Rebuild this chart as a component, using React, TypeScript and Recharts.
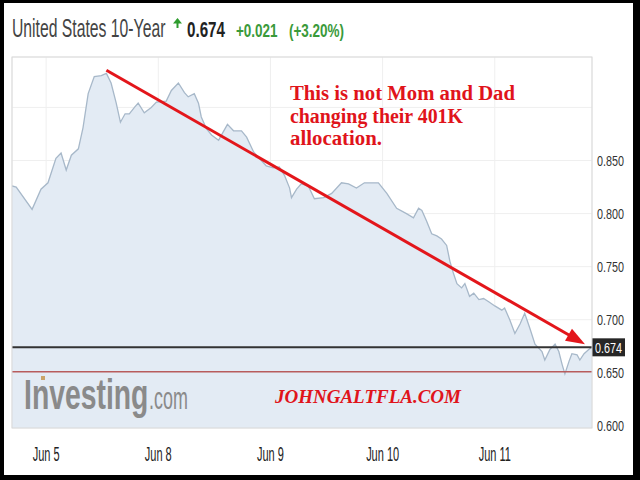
import React from 'react';
import { ComposedChart, Area, XAxis, YAxis, CartesianGrid, ReferenceLine } from 'recharts';

// hours relative to the "Jun 5" tick
const hours = [
  -7.3, -6.4, -3.0, -1.1, 0.4, 2.1, 3.2, 4.3, 5.4, 6.9, 7.9, 9.0, 10.3, 11.8, 12.9, 13.9, 15.0, 15.9,
  16.9, 17.8, 18.9, 19.7, 21.0, 22.5, 23.6, 25.7, 26.8, 28.3, 29.6, 30.4, 31.7, 32.6, 33.2, 34.3, 35.4,
  36.9, 37.9, 38.8, 40.1, 41.8, 42.9, 44.4, 45.6, 47.1, 48.6, 49.9, 51.0, 52.1, 52.5, 53.6, 54.6, 56.1,
  57.4, 59.4, 61.1, 63.2, 64.7, 66.4, 68.1, 69.6, 71.1, 72.9, 75.0, 77.1, 78.6, 79.7, 80.4, 81.4, 82.5,
  83.6, 84.6, 85.7, 86.4, 87.2, 87.9, 88.9, 89.6, 90.6, 91.5, 92.6, 93.6, 94.7, 96.0, 97.5, 98.1, 99.2,
  100.3, 101.4, 102.4, 103.5, 104.6, 106.1, 106.7, 107.8, 108.9, 109.7, 110.4, 111.0, 111.9, 112.5,
  113.6, 114.2, 115.1, 116.1, 116.8,
];
const yields = [
  0.826, 0.825, 0.804, 0.823, 0.829, 0.852, 0.857, 0.841, 0.855, 0.861, 0.881, 0.913, 0.929, 0.930, 0.932,
  0.923, 0.904, 0.886, 0.894, 0.894, 0.900, 0.904, 0.895, 0.900, 0.905, 0.906, 0.916, 0.923, 0.914, 0.910,
  0.913, 0.904, 0.891, 0.880, 0.874, 0.869, 0.877, 0.884, 0.878, 0.878, 0.872, 0.858, 0.852, 0.845, 0.843,
  0.844, 0.836, 0.824, 0.815, 0.823, 0.828, 0.826, 0.814, 0.815, 0.819, 0.829, 0.828, 0.824, 0.829, 0.829,
  0.829, 0.819, 0.805, 0.800, 0.796, 0.805, 0.803, 0.793, 0.781, 0.779, 0.776, 0.770, 0.755, 0.743, 0.734,
  0.730, 0.734, 0.722, 0.725, 0.719, 0.720, 0.717, 0.713, 0.709, 0.711, 0.700, 0.687, 0.696, 0.706, 0.692,
  0.677, 0.670, 0.662, 0.672, 0.677, 0.670, 0.658, 0.649, 0.661, 0.668, 0.667, 0.662, 0.668, 0.672, 0.674,
];
const dayTicks = [0, 24, 48, 72, 96];
const dayLabels = ['Jun 5', 'Jun 8', 'Jun 9', 'Jun 10', 'Jun 11'];
const yieldTicks = [0.6, 0.65, 0.7, 0.75, 0.8, 0.85, 0.9];
const hiddenTickLabels = [0.9];
const lastPrice = 0.674;
const prevClose = 0.651;
const change = '+0.021';
const changePct = '(+3.20%)';
const title = 'United States 10-Year';
const trendStart = { h: 12.9, v: 0.935 };
const trendEnd = { h: 115.3, v: 0.677 };
const noteLines = ['This is not Mom and Dad', 'changing their 401K', 'allocation.'];
const watermark = 'JOHNGALTFLA.COM';

const data = hours.map((h, i) => ({ h, v: yields[i] }));

const SANS = 'Liberation Sans, Arial, sans-serif';
const SERIF = 'Liberation Serif, Times New Roman, serif';

const XTick = (props: any) => {
  const { x, y, payload } = props;
  const idx = dayTicks.indexOf(payload.value);
  return (
    <g transform={`translate(${x},${y})`}>
      <text transform="scale(0.55,1)" textAnchor="middle" dy="0.71em" fontSize={20}
        fontFamily={SANS} fill="#222">
        {idx >= 0 ? dayLabels[idx] : ''}
      </text>
    </g>
  );
};

const YTick = (props: any) => {
  const { x, y, payload } = props;
  if (hiddenTickLabels.includes(payload.value)) return <g />;
  return (
    <g transform={`translate(${x},${y})`}>
      <text transform="scale(0.72,1)" textAnchor="start" dy="0.355em" fontSize={15}
        fontFamily={SANS} fill="#333">
        {payload.value.toFixed(3)}
      </text>
    </g>
  );
};

const PriceTag = (props: any) => {
  const vb = props.viewBox || {};
  const x = (vb.x || 0) + (vb.width || 0);
  const y = vb.y || 0;
  return (
    <g>
      <rect x={x} y={y - 9} width={33} height={18} fill="#262626" />
      <g transform={`translate(${x + 16.5},${y})`}>
        <text transform="scale(0.72,1)" textAnchor="middle" dy="0.355em" fontSize={15}
          fontFamily={SANS} fill="#fff">
          {lastPrice.toFixed(3)}
        </text>
      </g>
    </g>
  );
};

const TrendArrow = (props: any) => {
  const { x1, y1, x2, y2 } = props;
  const dx = x2 - x1;
  const dy = y2 - y1;
  const len = Math.sqrt(dx * dx + dy * dy) || 1;
  const ux = dx / len;
  const uy = dy / len;
  const headLen = 19;
  const headW = 7;
  const bx = x2 - ux * headLen;
  const by = y2 - uy * headLen;
  return (
    <g>
      <line x1={x1} y1={y1} x2={bx + ux * 2} y2={by + uy * 2} stroke="#e3161b" strokeWidth={3} />
      <polygon
        points={`${x2},${y2} ${bx - uy * headW},${by + ux * headW} ${bx + uy * headW},${by - ux * headW}`}
        fill="#e3161b"
      />
    </g>
  );
};

const Squeezed = ({ x, y, sx, children, ...rest }: any) => (
  <g transform={`translate(${x},${y})`}>
    <text transform={`scale(${sx},1)`} {...rest}>{children}</text>
  </g>
);

export default function App() {
  return (
    <div style={{ position: 'absolute', left: 0, top: 0, width: 640, height: 480, background: '#000', overflow: 'hidden' }}>
      <div style={{ position: 'absolute', left: 4, top: 3, width: 629, height: 472, background: '#fff' }} />
      <div style={{ position: 'absolute', left: 0, top: 0 }}>
        <ComposedChart width={640} height={480} data={data}
          margin={{ top: 57, right: 8, bottom: 22, left: 12 }}>
          <CartesianGrid stroke="#efefef" strokeWidth={1} />
          <XAxis type="number" dataKey="h" domain={[-7.3, 116.8]} ticks={dayTicks} allowDataOverflow
            axisLine={false} tickLine={false} tickSize={0} tickMargin={19} height={30} tick={<XTick />} />
          <YAxis orientation="right" type="number" domain={[0.598, 0.9475]} ticks={yieldTicks} allowDataOverflow
            axisLine={false} tickLine={false} tickSize={0} tickMargin={5} width={40} tick={<YTick />} />
          <Area type="linear" dataKey="v" stroke="#a7b8c9" strokeWidth={1.3} fill="#e3ebf4" fillOpacity={1}
            isAnimationActive={false} dot={false} activeDot={false} />
          <ReferenceLine y={prevClose} stroke="#b85c5c" strokeWidth={1.5} />
          <ReferenceLine y={lastPrice} stroke="#333" strokeWidth={2} label={<PriceTag />} />
          <ReferenceLine segment={[{ x: trendStart.h, y: trendStart.v }, { x: trendEnd.h, y: trendEnd.v }]}
            shape={<TrendArrow />} ifOverflow="visible" />
        </ComposedChart>
      </div>
      <svg width={640} height={480} style={{ position: 'absolute', left: 0, top: 0, pointerEvents: 'none' }}>
        <rect x={12} y={57} width={580} height={371} fill="none" stroke="#d9d9d9" strokeWidth={1} />
        <g fontFamily={SANS}>
          <Squeezed x={12} y={37} sx={0.63} fontSize={25} fill="#444">{title}</Squeezed>
          <polygon points="177.5,18 173,23.5 176.5,23.5 176.5,28 178.5,28 178.5,23.5 182,23.5" fill="#2e9c2e" />
          <Squeezed x={187} y={37} sx={0.69} fontSize={22} fontWeight="bold" fill="#222">{lastPrice.toFixed(3)}</Squeezed>
          <Squeezed x={236} y={37} sx={0.75} fontSize={18} fontWeight="bold" fill="#3a9a3a">{change}</Squeezed>
          <Squeezed x={289} y={37} sx={0.75} fontSize={18} fontWeight="bold" fill="#3a9a3a">{changePct}</Squeezed>
        </g>
        <g fontFamily={SERIF} fontWeight="bold" fill="#e0141b">
          <text x={290} y={100} fontSize={20} textLength={225} lengthAdjust="spacingAndGlyphs">{noteLines[0]}</text>
          <text x={290} y={122.5} fontSize={20} textLength={173} lengthAdjust="spacingAndGlyphs">{noteLines[1]}</text>
          <text x={290} y={145} fontSize={20} textLength={92} lengthAdjust="spacingAndGlyphs">{noteLines[2]}</text>
          <text x={275} y={403} fontSize={19} fontStyle="italic" textLength={186} lengthAdjust="spacingAndGlyphs">{watermark}</text>
        </g>
        <g fontFamily={SANS} fill="#8a8a8a">
          <Squeezed x={24} y={409} sx={0.675} fontSize={42} fontWeight="bold">Investing</Squeezed>
          <Squeezed x={149} y={409} sx={0.56} fontSize={32}>.com</Squeezed>
          <rect x={41} y={376} width={4} height={4} fill="#c9a46a" />
        </g>
      </svg>
    </div>
  );
}
